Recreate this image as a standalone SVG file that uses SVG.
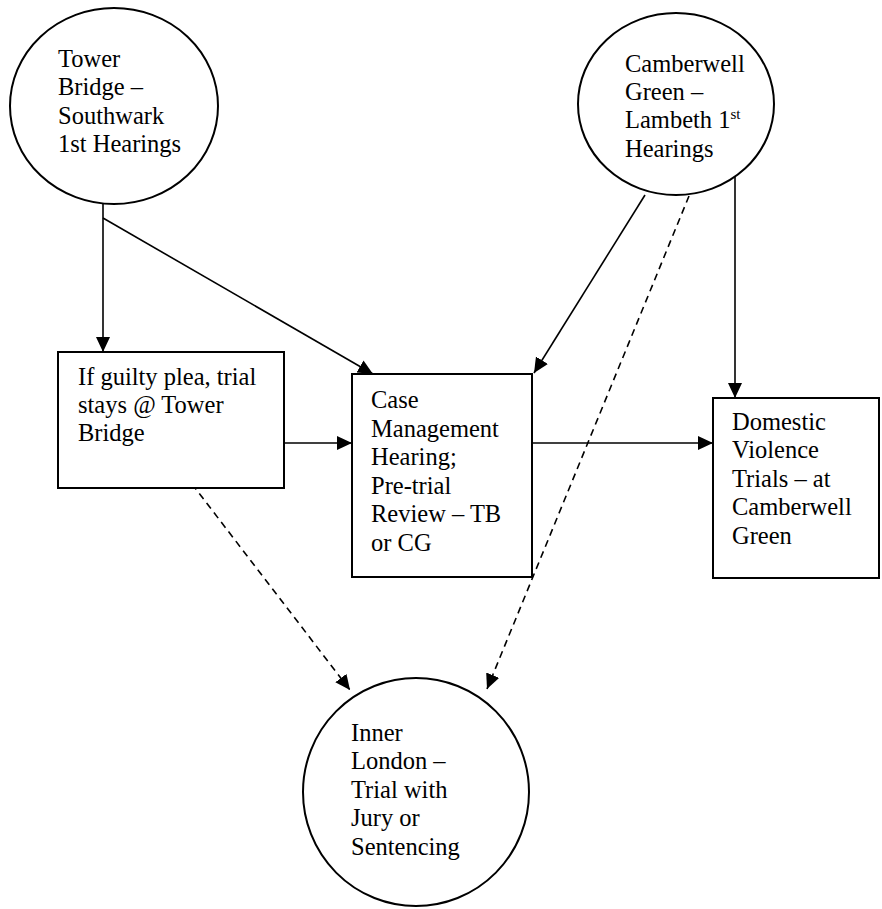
<svg xmlns="http://www.w3.org/2000/svg" width="882" height="909" viewBox="0 0 882 909">
<style>
  .shape { fill: #fff; stroke: #000; stroke-width: 2; }
  .lbl { font-family: "Liberation Serif", "Times New Roman", serif; font-size: 24.5px; fill: #000; }
  .conn { stroke: #000; stroke-width: 1.6; fill: none; marker-end: url(#arrow); }
  .dash { stroke-dasharray: 7 5; }
</style>
<defs>
  <marker id="arrow" markerUnits="userSpaceOnUse" markerWidth="16" markerHeight="15" refX="15" refY="7" orient="auto">
    <path d="M0,0 L15,7 L0,14 z" fill="#000"/>
  </marker>
</defs>
<rect width="882" height="909" fill="#fff"/>
<g id="connectors">
  <line class="conn" x1="103" y1="203" x2="103" y2="352"/>
  <line class="conn" x1="103" y1="218" x2="373" y2="374"/>
  <line class="conn" x1="645" y1="195" x2="534" y2="373"/>
  <line class="conn" x1="735" y1="168" x2="735" y2="398"/>
  <line class="conn" x1="284" y1="443" x2="352" y2="443"/>
  <line class="conn" x1="532" y1="443" x2="713" y2="443"/>
  <line class="conn dash" x1="192" y1="484" x2="350" y2="690"/>
  <line class="conn dash" x1="689" y1="196" x2="487" y2="689"/>
</g>
<g id="tower-bridge">
  <ellipse class="shape" cx="114" cy="106" rx="104" ry="98"/>
  <text class="lbl" x="58" y="67">Tower</text>
  <text class="lbl" x="58" y="95">Bridge –</text>
  <text class="lbl" x="58" y="124">Southwark</text>
  <text class="lbl" x="58" y="152">1st Hearings</text>
</g>
<g id="camberwell-green">
  <ellipse class="shape" cx="676" cy="104" rx="98" ry="91"/>
  <text class="lbl" x="625" y="72">Camberwell</text>
  <text class="lbl" x="625" y="100">Green –</text>
  <text class="lbl" x="625" y="128">Lambeth 1<tspan font-size="15" dy="-9">st</tspan></text>
  <text class="lbl" x="625" y="157">Hearings</text>
</g>
<g id="guilty-plea">
  <rect class="shape" x="58" y="352" width="226" height="136"/>
  <text class="lbl" x="78" y="385">If guilty plea, trial</text>
  <text class="lbl" x="78" y="413">stays @ Tower</text>
  <text class="lbl" x="78" y="441">Bridge</text>
</g>
<g id="case-management">
  <rect class="shape" x="352" y="374" width="180" height="203"/>
  <text class="lbl" x="371" y="408">Case</text>
  <text class="lbl" x="371" y="437">Management</text>
  <text class="lbl" x="371" y="465">Hearing;</text>
  <text class="lbl" x="371" y="494">Pre-trial</text>
  <text class="lbl" x="371" y="522">Review – TB</text>
  <text class="lbl" x="371" y="551">or CG</text>
</g>
<g id="domestic-violence">
  <rect class="shape" x="713" y="398" width="166" height="180"/>
  <text class="lbl" x="732" y="430">Domestic</text>
  <text class="lbl" x="732" y="458">Violence</text>
  <text class="lbl" x="732" y="487">Trials – at</text>
  <text class="lbl" x="732" y="515">Camberwell</text>
  <text class="lbl" x="732" y="544">Green</text>
</g>
<g id="inner-london">
  <ellipse class="shape" cx="416" cy="792" rx="113" ry="114"/>
  <text class="lbl" x="351" y="741">Inner</text>
  <text class="lbl" x="351" y="769">London –</text>
  <text class="lbl" x="351" y="798">Trial with</text>
  <text class="lbl" x="351" y="826">Jury or</text>
  <text class="lbl" x="351" y="855">Sentencing</text>
</g>
</svg>
